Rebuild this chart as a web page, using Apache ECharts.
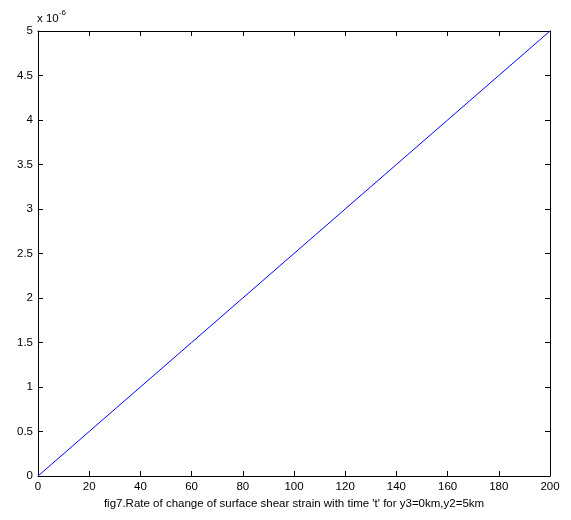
<!DOCTYPE html>
<html><head><meta charset="utf-8">
<script src="https://cdn.jsdelivr.net/npm/echarts@6/dist/echarts.min.js"></script>
<style>html,body{margin:0;padding:0;background:#fff}#c{width:571px;height:520px}</style>
</head><body><div id="c"></div>
<script>
const timeT = [0, 20, 40, 60, 80, 100, 120, 140, 160, 180, 200];
const strainRate = [0, 0.5, 1.0, 1.5, 2.0, 2.5, 3.0, 3.5, 4.0, 4.5, 5.0]; // x 1e-6
const xTicks = [0, 20, 40, 60, 80, 100, 120, 140, 160, 180, 200];
const yTicks = [0, 0.5, 1, 1.5, 2, 2.5, 3, 3.5, 4, 4.5, 5];
const caption = "fig7.Rate of change of surface shear strain with time 't' for y3=0km,y2=5km";

const chart = echarts.init(document.getElementById('c'), null, {renderer: 'canvas'});
const font = 'Liberation Sans';
const axisLine = {show: true, onZero: false, lineStyle: {color: '#000', width: 1}};
const tick = {show: true, inside: true, length: 5, lineStyle: {color: '#000'}};
chart.setOption({
  animation: false,
  backgroundColor: '#fff',
  grid: {left: 38, right: 21, top: 31, bottom: 44, containLabel: false},
  xAxis: [{
    type: 'value', min: 0, max: 200, interval: 20, position: 'bottom',
    axisLine, axisTick: tick, splitLine: {show: false},
    axisLabel: {color: '#000', fontFamily: font, fontSize: 11.5, margin: 5},
    name: caption, nameLocation: 'middle', nameGap: 20,
    nameTextStyle: {color: '#000', fontFamily: font, fontSize: 11.5}
  }, {
    type: 'value', min: 0, max: 200, interval: 20, position: 'top',
    axisLine, axisTick: tick, splitLine: {show: false}, axisLabel: {show: false}
  }],
  yAxis: [{
    type: 'value', min: 0, max: 5, interval: 0.5, position: 'left',
    axisLine, axisTick: tick, splitLine: {show: false},
    axisLabel: {color: '#000', fontFamily: font, fontSize: 11.5, margin: 5}
  }, {
    type: 'value', min: 0, max: 5, interval: 0.5, position: 'right',
    axisLine, axisTick: tick, splitLine: {show: false}, axisLabel: {show: false}
  }],
  graphic: [{
    type: 'text', left: 37, top: 9,
    style: {
      text: '{a|x 10}{b|-6}',
      rich: {
        a: {fontFamily: font, fontSize: 11.5, fill: '#000', padding: [4, 0, 0, 0]},
        b: {fontFamily: font, fontSize: 8, fill: '#000', verticalAlign: 'top'}
      }
    }
  }],
  series: [{
    type: 'line', xAxisIndex: 0, yAxisIndex: 0,
    data: timeT.map((t, i) => [t, strainRate[i]]),
    showSymbol: false, lineStyle: {color: '#0000ff', width: 1}
  }]
});
</script></body></html>
